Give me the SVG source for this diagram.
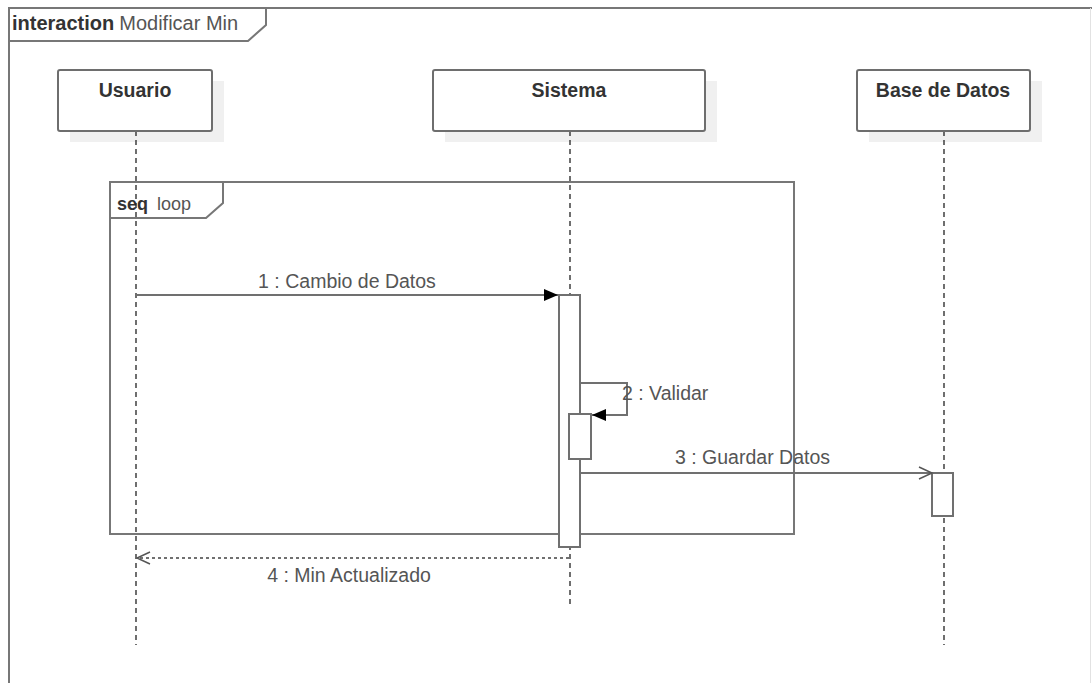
<svg xmlns="http://www.w3.org/2000/svg" width="1092" height="683" viewBox="0 0 1092 683">
<style>
  .frame{fill:none;stroke:#777;stroke-width:2}
  .box{fill:#fff;stroke:#6e6e6e;stroke-width:2}
  .shadow{fill:#f0f0f0;stroke:none}
  .life{stroke:#222;stroke-width:1.3;stroke-dasharray:5 4;fill:none}
  .act{fill:#fff;stroke:#707070;stroke-width:2}
  .msg{fill:none;stroke:#707070;stroke-width:2}
  .ret{fill:none;stroke:#707070;stroke-width:1.8;stroke-dasharray:3 3}
  .t{font-family:"Liberation Sans",Arial,sans-serif;font-size:19.5px;fill:#555}
  .b{font-family:"Liberation Sans",Arial,sans-serif;font-size:19.5px;font-weight:bold;fill:#333}
</style>
<defs>
  <marker id="filled" markerUnits="userSpaceOnUse" markerWidth="14" markerHeight="14" refX="14" refY="7" orient="auto">
    <path d="M0,1 L14,7 L0,13 z" fill="#000"/>
  </marker>
  <marker id="open" markerUnits="userSpaceOnUse" markerWidth="16" markerHeight="16" refX="14" refY="8" orient="auto">
    <path d="M1,2 L14,8 L1,14" fill="none" stroke="#555" stroke-width="1.5"/>
  </marker>
</defs>
<rect width="1092" height="683" fill="#fff"/>

<g id="frame">
  <path class="frame" d="M9,690 V8 H1092"/>
  <line x1="1090.5" y1="8" x2="1090.5" y2="683" stroke="#e2e2e2" stroke-width="1"/>
  <path class="frame" d="M9,41 H248 L266,25 V8"/>
  <text x="12" y="30" class="b" style="font-size:20px">interaction<tspan class="t" style="font-weight:normal;font-size:20px;fill:#555" dx="5">Modificar Min</tspan></text>
</g>

<g id="fragment-loop">
  <rect class="frame" x="110" y="182" width="684" height="352"/>
  <path class="frame" d="M110,218 H206 L223,203 V182"/>
  <text x="117" y="210" class="b" style="font-size:18px">seq<tspan class="t" style="font-weight:normal;font-size:18px" dx="9">loop</tspan></text>
</g>

<g id="usuario">
  <rect class="shadow" x="70" y="81" width="154" height="61"/>
  <line class="life" x1="136" y1="131" x2="136" y2="645"/>
  <rect class="box" x="58" y="70" width="154" height="61" rx="2"/>
  <text x="135" y="97" class="b" text-anchor="middle">Usuario</text>
</g>

<g id="sistema">
  <rect class="shadow" x="445" y="81" width="272" height="61"/>
  <line class="life" x1="570" y1="131" x2="570" y2="607"/>
  <rect class="box" x="433" y="70" width="272" height="61" rx="2"/>
  <text x="569" y="97" class="b" text-anchor="middle">Sistema</text>
  <rect class="act" x="559" y="295" width="21" height="252"/>
  <rect class="act" x="569" y="414" width="22" height="45"/>
</g>

<g id="base-de-datos">
  <rect class="shadow" x="869" y="81" width="173" height="61"/>
  <line class="life" x1="944" y1="131" x2="944" y2="645"/>
  <rect class="box" x="857" y="70" width="173" height="61" rx="2"/>
  <text x="943" y="97" class="b" text-anchor="middle">Base de Datos</text>
  <rect class="act" x="932" y="473" width="21" height="43"/>
</g>

<g id="connectors">
  <line class="msg" x1="136" y1="295" x2="558" y2="295" marker-end="url(#filled)"/>
  <text x="347" y="288" class="t" text-anchor="middle">1 : Cambio de Datos</text>

  <path class="msg" d="M580,383 H627 V415 H592" marker-end="url(#filled)"/>
  <text x="622" y="400" class="t">2 : Validar</text>

  <line class="msg" x1="580" y1="473" x2="932" y2="473" marker-end="url(#open)"/>
  <text x="675" y="464" class="t">3 : Guardar Datos</text>

  <line class="ret" x1="569" y1="558" x2="137" y2="558" marker-end="url(#open)"/>
  <text x="349" y="582" class="t" text-anchor="middle">4 : Min Actualizado</text>
</g>
</svg>
